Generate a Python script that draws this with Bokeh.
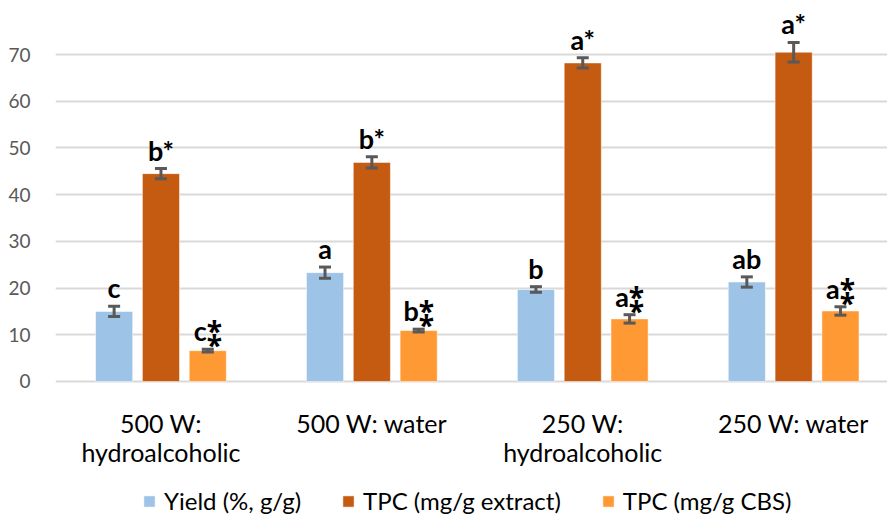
from bokeh.plotting import figure
from bokeh.models import (ColumnDataSource, FixedTicker, Range1d, Whisker, TeeHead,
                          Legend, LegendItem, LabelSet)
from bokeh.core.properties import value
from bokeh.embed import file_html
from bokeh.resources import INLINE

categories = ["500 W:\nhydroalcoholic", "500 W: water", "250 W:\nhydroalcoholic", "250 W: water"]
series_names = ["Yield (%, g/g)", "TPC (mg/g extract)", "TPC (mg/g CBS)"]
yield_vals = [15.0, 23.3, 19.7, 21.3]
yield_err = [1.1, 1.2, 0.6, 1.1]
tpc_ext_vals = [44.5, 46.9, 68.2, 70.5]
tpc_ext_err = [1.1, 1.2, 1.1, 2.1]
tpc_cbs_vals = [6.6, 10.9, 13.4, 15.1]
tpc_cbs_err = [0.3, 0.3, 0.9, 0.9]
yield_lbl = ["c", "a", "b", "ab"]
tpc_ext_lbl = ["b*", "b*", "a*", "a*"]
tpc_cbs_lbl = ["c\u2051", "b\u2051", "a\u2051", "a\u2051"]
y_ticks = [0, 10, 20, 30, 40, 50, 60, 70]

colors = ["#9DC3E6", "#C55A11", "#FF9933"]
FONT = "Lato"

p = figure(width=887, height=515, output_backend="svg", toolbar_location=None,
           x_range=Range1d(-0.5, 3.445), y_range=Range1d(-28.69, 80.5),
           min_border_left=55, min_border_right=0, min_border_top=5, min_border_bottom=0)
p.outline_line_color = None
p.background_fill_color = "white"
p.border_fill_color = "white"
p.xaxis.visible = False

offsets = [-0.222, 0.0, 0.222]
vals = [yield_vals, tpc_ext_vals, tpc_cbs_vals]
errs = [yield_err, tpc_ext_err, tpc_cbs_err]
lbls = [yield_lbl, tpc_ext_lbl, tpc_cbs_lbl]
items = []
for i in range(3):
    xs = [k + offsets[i] for k in range(4)]
    src = ColumnDataSource(dict(
        x=xs, top=vals[i],
        upper=[v + e for v, e in zip(vals[i], errs[i])],
        lower=[v - e for v, e in zip(vals[i], errs[i])],
        lbl=lbls[i]))
    r = p.vbar(x="x", top="top", bottom=0, width=0.176, source=src, fill_color=colors[i],
               line_color="#FFFFFF", line_alpha=0.5, line_width=1)
    items.append(LegendItem(label=series_names[i], renderers=[r]))
    w = Whisker(source=src, base="x", upper="upper", lower="lower",
                line_color="#595959", line_width=3, level="overlay",
                upper_head=TeeHead(size=12, line_color="#595959", line_width=3),
                lower_head=TeeHead(size=12, line_color="#595959", line_width=3))
    p.add_layout(w)
    ls = LabelSet(x="x", y="upper", text="lbl", source=src, text_align="center",
                  text_baseline="alphabetic", y_offset=8, text_font=value(FONT),
                  text_font_style="bold", text_font_size="27px", text_color="black")
    p.add_layout(ls)

# category labels under the bars (each line centred)
line1 = [c.split("\n")[0] for c in categories]
line2 = [c.split("\n")[1] if "\n" in c else "" for c in categories]
cat_src = ColumnDataSource(dict(x=list(range(4)), y=[0] * 4, l1=line1, l2=line2))
for fld, off in (("l1", -52), ("l2", -81)):
    p.add_layout(LabelSet(x="x", y="y", text=fld, source=cat_src, text_align="center",
                          text_baseline="alphabetic", y_offset=off, text_font=value(FONT),
                          text_font_size="25px", text_color="black"))

p.yaxis.ticker = FixedTicker(ticks=y_ticks)
p.yaxis.axis_line_color = None
p.yaxis.major_tick_line_color = None
p.yaxis.minor_tick_line_color = None
p.yaxis.major_label_text_font = FONT
p.yaxis.major_label_text_font_size = "19px"
p.yaxis.major_label_text_color = "#595959"
p.yaxis.major_label_standoff = 19

p.xgrid.grid_line_color = None
p.ygrid.ticker = FixedTicker(ticks=y_ticks)
p.ygrid.grid_line_color = "#D9D9D9"
p.ygrid.grid_line_width = 2

legend = Legend(items=items, orientation="horizontal", location=(87, 0),
                label_text_font=FONT, label_text_font_size="24px",
                label_text_color="#000000", glyph_width=14, glyph_height=14,
                spacing=40, border_line_color=None, background_fill_alpha=0,
                padding=0, margin=0, label_standoff=8)
p.add_layout(legend)

open("out.html", "w").write(file_html(p, INLINE))
